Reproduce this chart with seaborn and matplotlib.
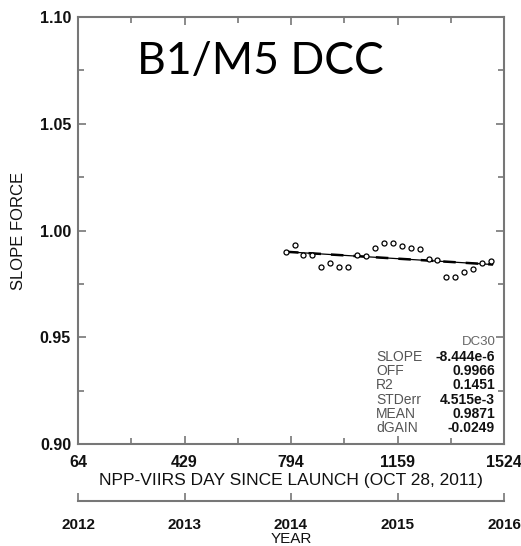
import numpy as np
import pandas as pd
import matplotlib
matplotlib.use("Agg")
import matplotlib.pyplot as plt
import seaborn as sns

# ---- data ----
days = [777, 808, 836, 867, 898, 929, 960, 990, 1021, 1052, 1083, 1113,
        1143, 1174, 1204, 1235, 1266, 1294, 1325, 1356, 1387, 1417, 1448, 1478]
slope_force = [0.9899, 0.9933, 0.9887, 0.9884, 0.9830, 0.9849, 0.9830, 0.9829,
               0.9885, 0.9882, 0.9918, 0.9941, 0.9941, 0.9926, 0.9918, 0.9915,
               0.9867, 0.9860, 0.9784, 0.9784, 0.9807, 0.9821, 0.9848, 0.9856]
fit_slope = -8.444e-6
fit_off = 0.9966
stat_names = ["SLOPE", "OFF", "R2", "STDerr", "MEAN", "dGAIN"]
stat_values = ["-8.444e-6", "0.9966", "0.1451", "4.515e-3", "0.9871", "-0.0249"]
day_ticks = [64, 429, 794, 1159, 1524]
year_labels = ["2012", "2013", "2014", "2015", "2016"]
y_ticks = [0.90, 0.95, 1.00, 1.05, 1.10]

sns.set_theme(style="white")
plt.rcParams['font.family'] = ['Liberation Sans', 'DejaVu Sans']

W, H = 521, 546
fig = plt.figure(figsize=(W / 100, H / 100), dpi=100)
L, R, T, B = 78, 504, 17, 444
ax = fig.add_axes([L / W, 1 - B / H, (R - L) / W, (B - T) / H])

df = pd.DataFrame({"day": days, "val": slope_force})
fx = np.array([days[0], days[-1] + 8])
fit_df = pd.DataFrame({"day": fx, "val": fit_off + fit_slope * fx})
sns.lineplot(data=fit_df, x="day", y="val", ax=ax, color="black", lw=0.9)
sns.lineplot(data=fit_df, x="day", y="val", ax=ax, color="black", lw=1.8,
             linestyle=(0, (5, 4)))
sns.scatterplot(data=df, x="day", y="val", ax=ax, marker="o", s=13,
                facecolor="white", edgecolor="black", linewidth=0.9, zorder=3)

ax.set_xlim(64, 1524)
ax.set_ylim(0.90, 1.10)
ax.set_xticks(day_ticks)
ax.set_xticks([246.5, 611.5, 976.5, 1341.5], minor=True)
ax.set_yticks(y_ticks)
ax.set_yticks([0.925, 0.975, 1.025, 1.075], minor=True)
ax.set_yticklabels([f"{v:.2f}" for v in y_ticks])
ax.tick_params(axis="both", which="both", direction="in", color="#777777",
               top=True, right=True, bottom=True, left=True, width=1.2)
ax.tick_params(which="major", length=6, labelsize=11.5, labelcolor="#111111")
ax.tick_params(which="minor", length=4)
ax.tick_params(axis="x", pad=8)
ax.tick_params(axis="y", pad=5)
for lab in ax.get_xticklabels() + ax.get_yticklabels():
    lab.set_fontweight("bold")
for s in ax.spines.values():
    s.set_color("#777777")
    s.set_linewidth(1.5)
ax.set_xlabel("NPP-VIIRS DAY SINCE LAUNCH (OCT 28, 2011)", fontsize=12.5,
              color="#111111", labelpad=2)
ax.set_ylabel("SLOPE FORCE", fontsize=12, color="#111111", labelpad=10)

# stats block
fig.text(496 / W, 1 - 342 / H, "DC30", fontsize=9.5, color="#666666",
         ha="right", va="center")
for i, (n, v) in enumerate(zip(stat_names, stat_values)):
    yy = 357 + i * 14.2
    fig.text(376 / W, 1 - yy / H, n, fontsize=10, color="#555555",
             ha="left", va="center")
    fig.text(495 / W, 1 - yy / H, v, fontsize=10, color="#111111",
             ha="right", va="center", fontweight="bold")

# big label
fig.text(260 / W, 1 - 61 / H, "B1/M5 DCC", fontsize=32, family=["Lato", "DejaVu Sans"],
         ha="center", va="center", color="black")

# year axis
yax = fig.add_axes([L / W, 1 - 501 / H, (R - L) / W, 0.001])
yax.set_xlim(64, 1524)
yax.set_ylim(0, 1)
yax.set_yticks([])
yax.set_facecolor("none")
for k in ["top", "left", "right"]:
    yax.spines[k].set_visible(False)
yax.spines["bottom"].set_color("#777777")
yax.spines["bottom"].set_linewidth(1.5)
yax.set_xticks(day_ticks)
yax.set_xticklabels(year_labels)
yax.tick_params(axis="x", direction="in", length=6, color="#777777", width=1.2,
                bottom=True, top=False, labelsize=11, pad=12, labelcolor="#111111")
for lab in yax.get_xticklabels():
    lab.set_fontweight("bold")
yax.set_xlabel("YEAR", fontsize=11, color="#111111", labelpad=0)

fig.savefig("out.png", dpi=100)
